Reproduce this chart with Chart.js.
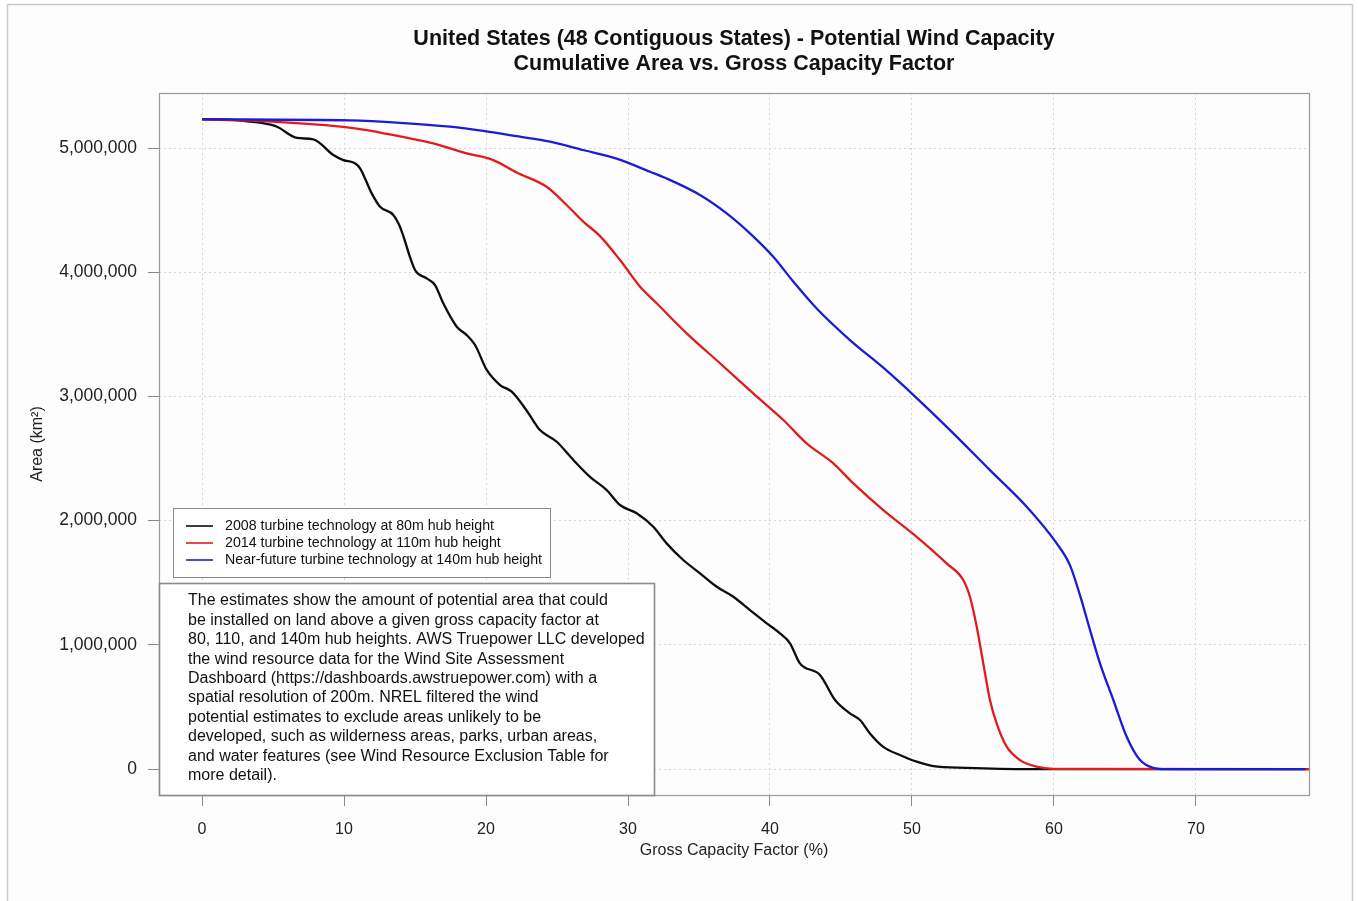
<!DOCTYPE html>
<html>
<head>
<meta charset="utf-8">
<title>Potential Wind Capacity</title>
<script src="https://cdn.jsdelivr.net/npm/chart.js@4"></script>
<style>
  html, body { margin: 0; padding: 0; background: #fff; }
  #wrap { position: relative; width: 1358px; height: 901px; }
</style>
</head>
<body>
<div id="wrap"><canvas id="wind-chart"></canvas></div>
<script>
// values (capacity factor in %, area in km2)
const capBlack = [0, 1.97, 3.03, 4.08, 5.28, 6.69, 7.84, 9.25, 9.95, 10.77, 11.13, 11.95, 12.54, 13.47, 13.94,
    15.0, 15.82, 16.41, 16.99, 17.94, 18.64, 19.23, 20.05, 20.99, 21.81, 22.87, 23.80, 24.98, 26.15, 27.32,
    28.50, 29.44, 30.61, 31.78, 32.72, 33.89, 35.07, 36.25, 37.42, 38.59, 39.77, 40.70, 41.41, 42.11, 43.52,
    44.58, 45.63, 46.34, 47.04, 47.98, 49.15, 50.33, 51.50, 53.85, 56.2, 58.78, 78];
const areaBlack = [5233000, 5229000, 5217000, 5204000, 5171000, 5081000, 5070000, 4944000, 4903000, 4877000,
    4837000, 4635000, 4527000, 4461000, 4366000, 4018000, 3951000, 3897000, 3750000, 3561000, 3494000, 3414000,
    3213000, 3092000, 3038000, 2885000, 2729000, 2635000, 2488000, 2353000, 2246000, 2126000, 2059000, 1951000,
    1817000, 1683000, 1576000, 1468000, 1387000, 1280000, 1173000, 1093000, 1012000, 851000, 757000, 556000,
    448000, 395000, 287000, 179000, 113000, 59000, 24000, 10000, 2000, 0, 0];

const capRed = [0, 3.38, 6.90, 9.95, 11.60, 13.94, 16.29, 18.64, 20.51, 22.16, 24.27, 25.68, 26.85, 28.03,
    29.44, 30.85, 32.02, 34.13, 36.48, 38.82, 40.94, 42.58, 44.46, 45.87, 47.98, 50.33, 52.44, 53.61, 54.08,
    54.56, 55.02, 55.49, 55.96, 56.67, 57.61, 58.78, 59.95, 78];
const areaRed = [5231000, 5220000, 5199000, 5171000, 5145000, 5093000, 5038000, 4957000, 4903000, 4803000,
    4688000, 4541000, 4407000, 4291000, 4098000, 3883000, 3750000, 3508000, 3267000, 3025000, 2810000, 2622000,
    2461000, 2300000, 2085000, 1870000, 1656000, 1522000, 1387000, 1146000, 851000, 556000, 368000, 180000,
    72000, 19000, 2000, 0];

const capBlue = [0, 10.42, 13.94, 17.46, 19.81, 22.16, 24.51, 26.83, 29.20, 31.55, 32.73, 35.07, 36.95, 38.59,
    40.23, 41.64, 43.29, 45.63, 47.98, 50.33, 52.68, 55.49, 58.08, 60.19, 61.13, 61.83, 62.54, 63.24, 64.18,
    65.12, 66.06, 66.99, 67.94, 77.7];
const areaBlue = [5231000, 5222000, 5203000, 5172000, 5138000, 5095000, 5051000, 4984000, 4914000, 4809000,
    4754000, 4622000, 4474000, 4313000, 4125000, 3925000, 3708000, 3454000, 3231000, 2987000, 2729000, 2407000,
    2112000, 1817000, 1640000, 1400000, 1119000, 851000, 556000, 260000, 72000, 10000, 0, 0];

const seriesLabels = [
    '2008 turbine technology at 80m hub height',
    '2014 turbine technology at 110m hub height',
    'Near-future turbine technology at 140m hub height'
];
const seriesColors = ['#0d0d0d', '#e01c1c', '#1c1cd6'];

const xTicks = [0, 10, 20, 30, 40, 50, 60, 70];
const yTicks = [0, 1000000, 2000000, 3000000, 4000000, 5000000];

const titleLines = [
    'United States (48 Contiguous States) - Potential Wind Capacity',
    'Cumulative Area vs. Gross Capacity Factor'
];
const noteLines = [
    'The estimates show the amount of potential area that could',
    'be installed on land above a given gross capacity factor at',
    '80, 110, and 140m hub heights. AWS Truepower LLC developed',
    'the wind resource data for the Wind Site Assessment',
    'Dashboard (https://dashboards.awstruepower.com) with a',
    'spatial resolution of 200m. NREL filtered the wind',
    'potential estimates to exclude areas unlikely to be',
    'developed, such as wilderness areas, parks, urban areas,',
    'and water features (see Wind Resource Exclusion Table for',
    'more detail).'
];

const FONT = '"Liberation Sans", Arial, sans-serif';

function pairs(xs, ys) {
    return xs.map((x, i) => ({ x: x, y: ys[i] }));
}

// frame, title, box, legend and the note panel
const chrome = {
    id: 'chrome',
    beforeDraw(chart) {
        const ctx = chart.ctx;
        ctx.save();
        ctx.fillStyle = '#ffffff';
        ctx.fillRect(0, 0, chart.width, chart.height);
        ctx.fillStyle = '#fdfdfd';
        ctx.fillRect(7, 4, 1346, 920);
        ctx.strokeStyle = '#c9c9c9';
        ctx.lineWidth = 1.5;
        ctx.strokeRect(7.5, 4.5, 1345, 920);
        ctx.restore();
    },
    afterDraw(chart) {
        const ctx = chart.ctx;
        const a = chart.chartArea;
        ctx.save();

        // plot box
        ctx.strokeStyle = '#9a9a9a';
        ctx.lineWidth = 1.2;
        ctx.strokeRect(a.left + 0.5, a.top + 0.5, a.right - a.left, a.bottom - a.top);

        // title
        ctx.fillStyle = '#111';
        ctx.font = 'bold 21.5px ' + FONT;
        ctx.textAlign = 'center';
        ctx.textBaseline = 'middle';
        const cx = (a.left + a.right) / 2;
        ctx.fillText(titleLines[0], cx, 39);
        ctx.fillText(titleLines[1], cx, 64);

        // legend
        ctx.fillStyle = '#ffffff';
        ctx.fillRect(173, 508, 377, 69);
        ctx.strokeStyle = '#8a8a8a';
        ctx.lineWidth = 1;
        ctx.strokeRect(173.5, 508.5, 377, 69);
        ctx.font = '14.2px ' + FONT;
        ctx.textAlign = 'left';
        seriesLabels.forEach((lbl, i) => {
            const y = 526 + i * 17;
            ctx.strokeStyle = seriesColors[i];
            ctx.lineWidth = 1.6;
            ctx.beginPath();
            ctx.moveTo(186, y);
            ctx.lineTo(213, y);
            ctx.stroke();
            ctx.fillStyle = '#111';
            ctx.fillText(lbl, 225, y);
        });

        // note panel
        ctx.fillStyle = '#ffffff';
        ctx.fillRect(159, 583, 495, 212);
        ctx.strokeStyle = '#8a8a8a';
        ctx.strokeRect(159.5, 583.5, 495, 212);
        ctx.fillStyle = '#111';
        ctx.font = '16px ' + FONT;
        noteLines.forEach((line, i) => {
            ctx.fillText(line, 188, 601 + i * 19.4);
        });

        ctx.restore();
    }
};

const ctx = document.getElementById('wind-chart').getContext('2d');
new Chart(ctx, {
    type: 'line',
    data: {
        datasets: [
            { label: seriesLabels[0], data: pairs(capBlack, areaBlack), borderColor: seriesColors[0], order: 3 },
            { label: seriesLabels[1], data: pairs(capRed, areaRed), borderColor: seriesColors[1], order: 2 },
            { label: seriesLabels[2], data: pairs(capBlue, areaBlue), borderColor: seriesColors[2], order: 1 }
        ]
    },
    options: {
        responsive: true,
        maintainAspectRatio: false,
        animation: false,
        layout: { padding: { top: 93, right: 49, left: 0, bottom: 0 } },
        elements: {
            point: { radius: 0 },
            line: { borderWidth: 2.3, cubicInterpolationMode: 'monotone', fill: false }
        },
        plugins: {
            legend: { display: false },
            title: { display: false },
            tooltip: { enabled: false }
        },
        scales: {
            x: {
                type: 'linear',
                min: -3.03,
                max: 77.96,
                afterFit: s => { s.height = 106; },
                afterBuildTicks: s => { s.ticks = xTicks.map(v => ({ value: v })); },
                grid: { color: '#d6d6d6', tickColor: '#8a8a8a', tickLength: 11, tickBorderDash: [] },
                border: { display: false, dash: [2, 3] },
                ticks: { color: '#222', padding: 14, maxRotation: 0, font: { family: FONT, size: 16 } },
                title: {
                    display: true, text: 'Gross Capacity Factor (%)', color: '#222',
                    font: { family: FONT, size: 16 }, padding: { top: 0, bottom: 41 }
                }
            },
            y: {
                min: -209000,
                max: 5443000,
                afterFit: s => { s.width = 159; },
                afterBuildTicks: s => { s.ticks = yTicks.map(v => ({ value: v })); },
                grid: { color: '#d6d6d6', tickColor: '#8a8a8a', tickLength: 11, tickBorderDash: [] },
                border: { display: false, dash: [2, 3] },
                ticks: {
                    color: '#222', padding: 11, font: { family: FONT, size: 17.5 },
                    callback: v => v.toLocaleString('en-US')
                },
                title: {
                    display: true, text: 'Area (km²)', color: '#222',
                    font: { family: FONT, size: 16 }, padding: { top: 28, bottom: 0 }
                }
            }
        }
    },
    plugins: [chrome]
});
</script>
</body>
</html>
